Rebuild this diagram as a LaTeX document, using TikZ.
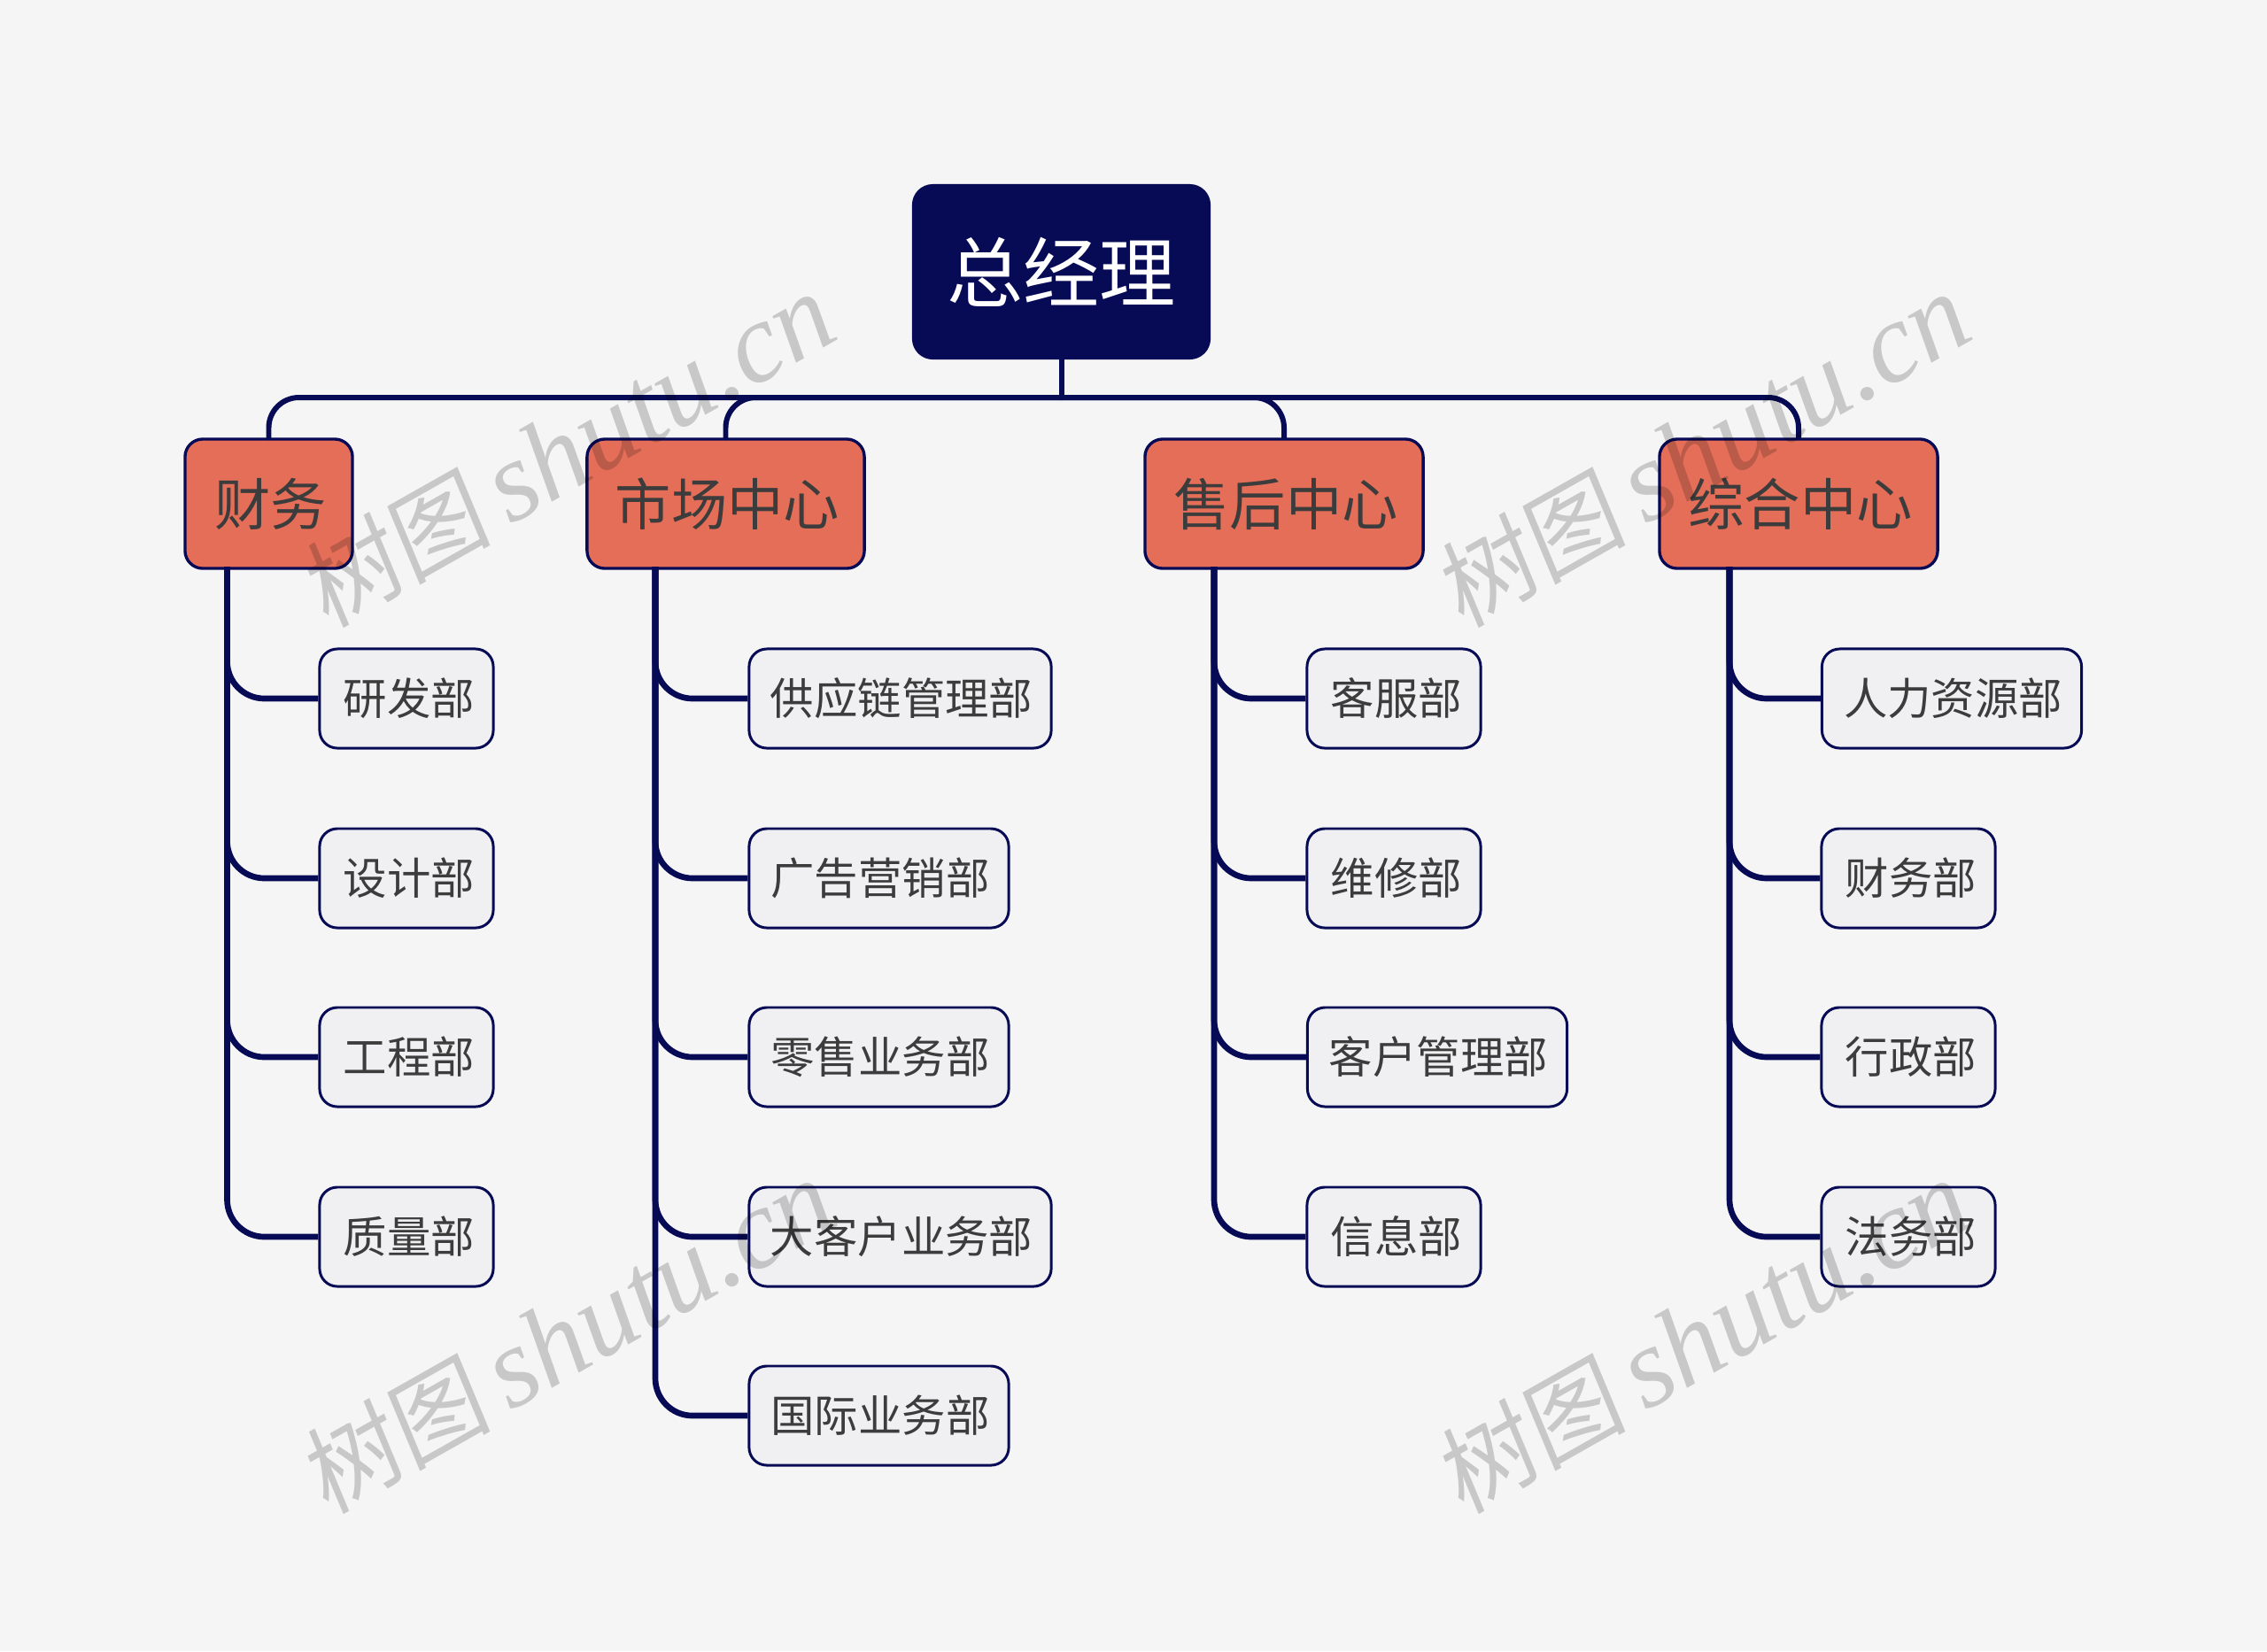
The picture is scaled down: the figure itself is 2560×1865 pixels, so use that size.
\documentclass[tikz,border=0pt]{standalone}
\usepackage{fontspec}
\setmainfont{Noto Sans CJK SC}
\newfontfamily\wmcjk[FakeSlant=0.12]{Noto Sans CJK SC}
\newfontfamily\wmlat{Liberation Serif}
\definecolor{bgc}{HTML}{F5F5F5}
\definecolor{navy}{HTML}{070A55}
\definecolor{coral}{HTML}{E46E58}
\definecolor{pale}{HTML}{F0F0F2}
\definecolor{ink}{HTML}{3C3C3C}
\tikzset{
  x=0.01cm,y=-0.01cm,
  rootbox/.style={draw=navy,fill=navy,line width=0.85pt,rounded corners=0.22cm,minimum width=3.34cm,minimum height=1.95cm,inner sep=0,text=white,font=\fontsize{24.5}{28}\selectfont},
  midbox/.style={draw=navy,fill=coral,line width=0.95pt,rounded corners=0.2cm,minimum height=1.46cm,inner sep=0,text=ink,font=\fontsize{18}{21}\selectfont,execute at begin node={\kern0.04cm}},
  leaf/.style={draw=navy,fill=pale,line width=0.85pt,rounded corners=0.2cm,minimum height=1.12cm,inner sep=0,text=ink,font=\fontsize{14.05}{17}\selectfont},
  wide3/.style={leaf,minimum width=1.96cm,execute at begin node={\kern0.06cm}},
  wide5/.style={leaf,minimum width=2.93cm,execute at begin node={\kern0.03cm}},
  wide6/.style={leaf,minimum width=3.41cm,execute at begin node={\kern0.03cm}},
  conn/.style={draw=navy,line width=1.7pt,line cap=round},
  bus/.style={conn,rounded corners=0.34cm},
  twig/.style={draw=navy,line width=1.9pt,rounded corners=0.42cm},
  mark text/.style={opacity=0.18,text=black,inner sep=0,rotate=29.5},
}
\begin{document}
\begin{tikzpicture}
\useasboundingbox[fill=bgc] (0,0) rectangle (2560,1865);
\coordinate (hub) at (1198.5,449);
\coordinate (s1) at (256.5,640);
\coordinate (s2) at (740,640);
\coordinate (s3) at (1371,640);
\coordinate (s4) at (1953,640);
% boxes
\node[rootbox] (root) at (1198.5,307) {总经理};
\node[midbox,minimum width=1.89cm] (m1) at (303.5,569) {财务};
\node[midbox,minimum width=3.13cm] (m2) at (819.5,569) {市场中心};
\node[midbox,minimum width=3.14cm] (m3) at (1450,569) {售后中心};
\node[midbox,minimum width=3.14cm] (m4) at (2031,569) {综合中心};
\node[wide3] (a1) at (459,789) {研发部};
\node[wide3] (a2) at (459,992) {设计部};
\node[wide3] (a3) at (459,1194) {工程部};
\node[wide3] (a4) at (459,1397) {质量部};
\node[wide6] (b1) at (1016.5,789) {供应链管理部};
\node[wide5] (b2) at (992.5,992) {广告营销部};
\node[wide5] (b3) at (992.5,1194) {零售业务部};
\node[wide6] (b4) at (1016.5,1397) {大客户业务部};
\node[wide5] (b5) at (992.5,1599) {国际业务部};
\node[wide3] (c1) at (1574,789) {客服部};
\node[wide3] (c2) at (1574,992) {维修部};
\node[wide5] (c3) at (1623,1194) {客户管理部};
\node[wide3] (c4) at (1574,1397) {信息部};
\node[wide5] (d1) at (2204,789) {人力资源部};
\node[wide3] (d2) at (2155,992) {财务部};
\node[wide3] (d3) at (2155,1194) {行政部};
\node[wide3] (d4) at (2155,1397) {法务部};
% connectors
\draw[conn,line cap=butt] (root.south) -- (hub);
\draw[bus] (hub) -| (m1.north);
\draw[bus] (hub) -| (m2.north);
\draw[bus] (hub) -| (m3.north);
\draw[bus] (hub) -| (m4.north);
\foreach \s/\n in {s1/a1,s1/a2,s1/a3,s1/a4,s2/b1,s2/b2,s2/b3,s2/b4,s2/b5,s3/c1,s3/c2,s3/c3,s3/c4,s4/d1,s4/d2,s4/d3,s4/d4}{
  \draw[twig] (\s) |- (\n.west);
}
% watermarks
\foreach \i/\p in {w1/{640,510},w2/{1922,510},w3/{640,1511},w4/{1922,1511}}{
  \node[mark text] (\i) at (\p) {{\fontsize{31}{34}\selectfont\wmcjk 树图}\hspace{0.2cm}{\fontsize{36.5}{40}\selectfont\wmlat\itshape shutu.cn}};
}
\end{tikzpicture}
\end{document}
